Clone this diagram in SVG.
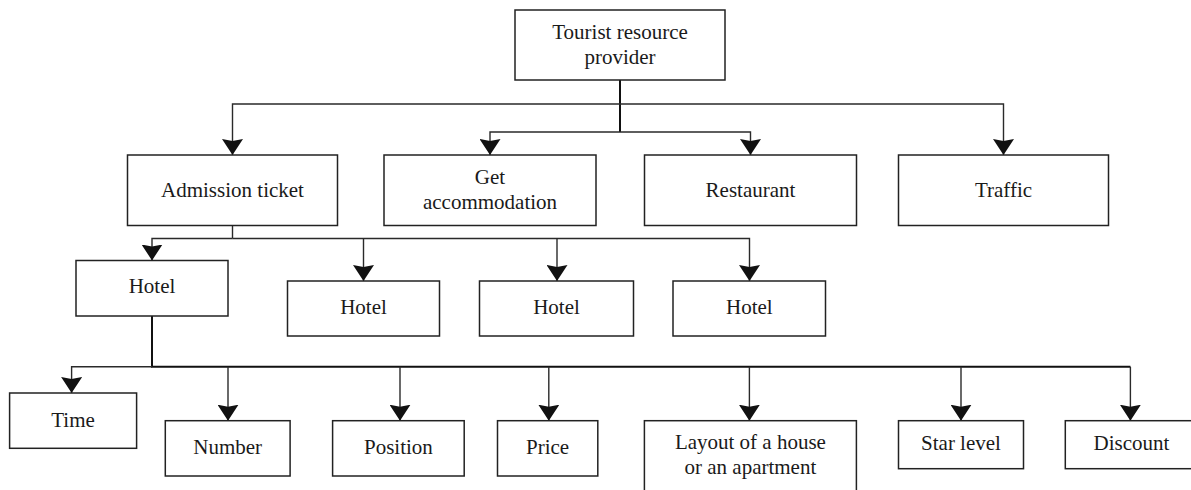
<svg xmlns="http://www.w3.org/2000/svg" width="1191" height="490" viewBox="0 0 1191 490">
  <style>
    .box { fill: #ffffff; stroke: #222222; stroke-width: 1.5; }
    .lbl { font-family: "Liberation Serif", "Times New Roman", serif; font-size: 21px; fill: #1a1a1a; text-anchor: middle; }
    .con { fill: none; stroke: #2a2a2a; stroke-width: 1.4; }
    .thick { fill: none; stroke: #111111; stroke-width: 2; }
  </style>
  <defs>
    <marker id="arr" viewBox="0 0 16 21" refX="16" refY="10.5" markerWidth="16" markerHeight="21" markerUnits="userSpaceOnUse" orient="auto">
      <path d="M0,0 L16,10.5 L0,21 L2,10.5 Z" fill="#111111"/>
    </marker>
  </defs>
  <rect width="1191" height="490" fill="#ffffff"/>

  <g id="connectors">
    <path class="thick" d="M620 80 V132"/>
    <path class="con" d="M620 104 H232.5 V155" marker-end="url(#arr)"/>
    <path class="con" d="M620 104 H1003.5 V155" marker-end="url(#arr)"/>
    <path class="con" d="M620 132 H490 V155" marker-end="url(#arr)"/>
    <path class="con" d="M620 132 H750.5 V155" marker-end="url(#arr)"/>

    <path class="con" d="M232.5 225.5 V238.5"/>
    <path class="con" d="M232.5 238.5 H152 V260.5" marker-end="url(#arr)"/>
    <path class="con" d="M232.5 238.5 H749.5 V281" marker-end="url(#arr)"/>
    <path class="con" d="M363.5 238.5 V281" marker-end="url(#arr)"/>
    <path class="con" d="M557 238.5 V281" marker-end="url(#arr)"/>

    <path class="thick" d="M152 316 V366.7 H1130.4"/>
    <path class="con" d="M152 366.7 H71.6 V393" marker-end="url(#arr)"/>
    <path class="con" d="M228 366.7 V420.7" marker-end="url(#arr)"/>
    <path class="con" d="M400 366.7 V420.7" marker-end="url(#arr)"/>
    <path class="con" d="M548.8 366.7 V420.7" marker-end="url(#arr)"/>
    <path class="con" d="M749.4 366.7 V420.7" marker-end="url(#arr)"/>
    <path class="con" d="M961 366.7 V420.7" marker-end="url(#arr)"/>
    <path class="con" d="M1130.4 366.7 V420.7" marker-end="url(#arr)"/>
  </g>

  <g id="provider">
    <rect class="box" x="515" y="10" width="210" height="70"/>
    <text class="lbl" x="620" y="39">Tourist resource</text>
    <text class="lbl" x="620" y="64">provider</text>
  </g>
  <g id="admission">
    <rect class="box" x="127.5" y="155" width="210" height="70.5"/>
    <text class="lbl" x="232.5" y="197">Admission ticket</text>
  </g>
  <g id="accommodation">
    <rect class="box" x="384" y="155" width="212" height="70.5"/>
    <text class="lbl" x="490" y="183.5">Get</text>
    <text class="lbl" x="490" y="208.5">accommodation</text>
  </g>
  <g id="restaurant">
    <rect class="box" x="644.5" y="155" width="212" height="70.5"/>
    <text class="lbl" x="750.5" y="197">Restaurant</text>
  </g>
  <g id="traffic">
    <rect class="box" x="898.5" y="155" width="210" height="70.5"/>
    <text class="lbl" x="1003.5" y="197">Traffic</text>
  </g>

  <g id="hotel1">
    <rect class="box" x="76" y="260.5" width="152" height="55.5"/>
    <text class="lbl" x="152" y="293">Hotel</text>
  </g>
  <g id="hotel2">
    <rect class="box" x="287.5" y="281" width="152" height="55"/>
    <text class="lbl" x="363.5" y="313.7">Hotel</text>
  </g>
  <g id="hotel3">
    <rect class="box" x="479.5" y="281" width="154" height="55"/>
    <text class="lbl" x="556.5" y="313.7">Hotel</text>
  </g>
  <g id="hotel4">
    <rect class="box" x="673" y="281" width="152.5" height="55"/>
    <text class="lbl" x="749.3" y="313.7">Hotel</text>
  </g>

  <g id="time">
    <rect class="box" x="9.6" y="393" width="127" height="55.3"/>
    <text class="lbl" x="73" y="427">Time</text>
  </g>
  <g id="number">
    <rect class="box" x="165.3" y="420.7" width="124.8" height="55.3"/>
    <text class="lbl" x="227.7" y="453.7">Number</text>
  </g>
  <g id="position">
    <rect class="box" x="332.6" y="420.7" width="131.6" height="55.3"/>
    <text class="lbl" x="398.4" y="453.7">Position</text>
  </g>
  <g id="price">
    <rect class="box" x="497.5" y="420.7" width="100.3" height="55.3"/>
    <text class="lbl" x="547.6" y="453.7">Price</text>
  </g>
  <g id="layout">
    <rect class="box" x="644.4" y="420.7" width="212" height="72"/>
    <text class="lbl" x="750.4" y="448.7">Layout of a house</text>
    <text class="lbl" x="750.4" y="473.7">or an apartment</text>
  </g>
  <g id="star">
    <rect class="box" x="898.5" y="420.7" width="125" height="48"/>
    <text class="lbl" x="961" y="450.3">Star level</text>
  </g>
  <g id="discount">
    <rect class="box" x="1065.3" y="420.7" width="130" height="48"/>
    <text class="lbl" x="1131.5" y="450.3">Discount</text>
  </g>
</svg>
